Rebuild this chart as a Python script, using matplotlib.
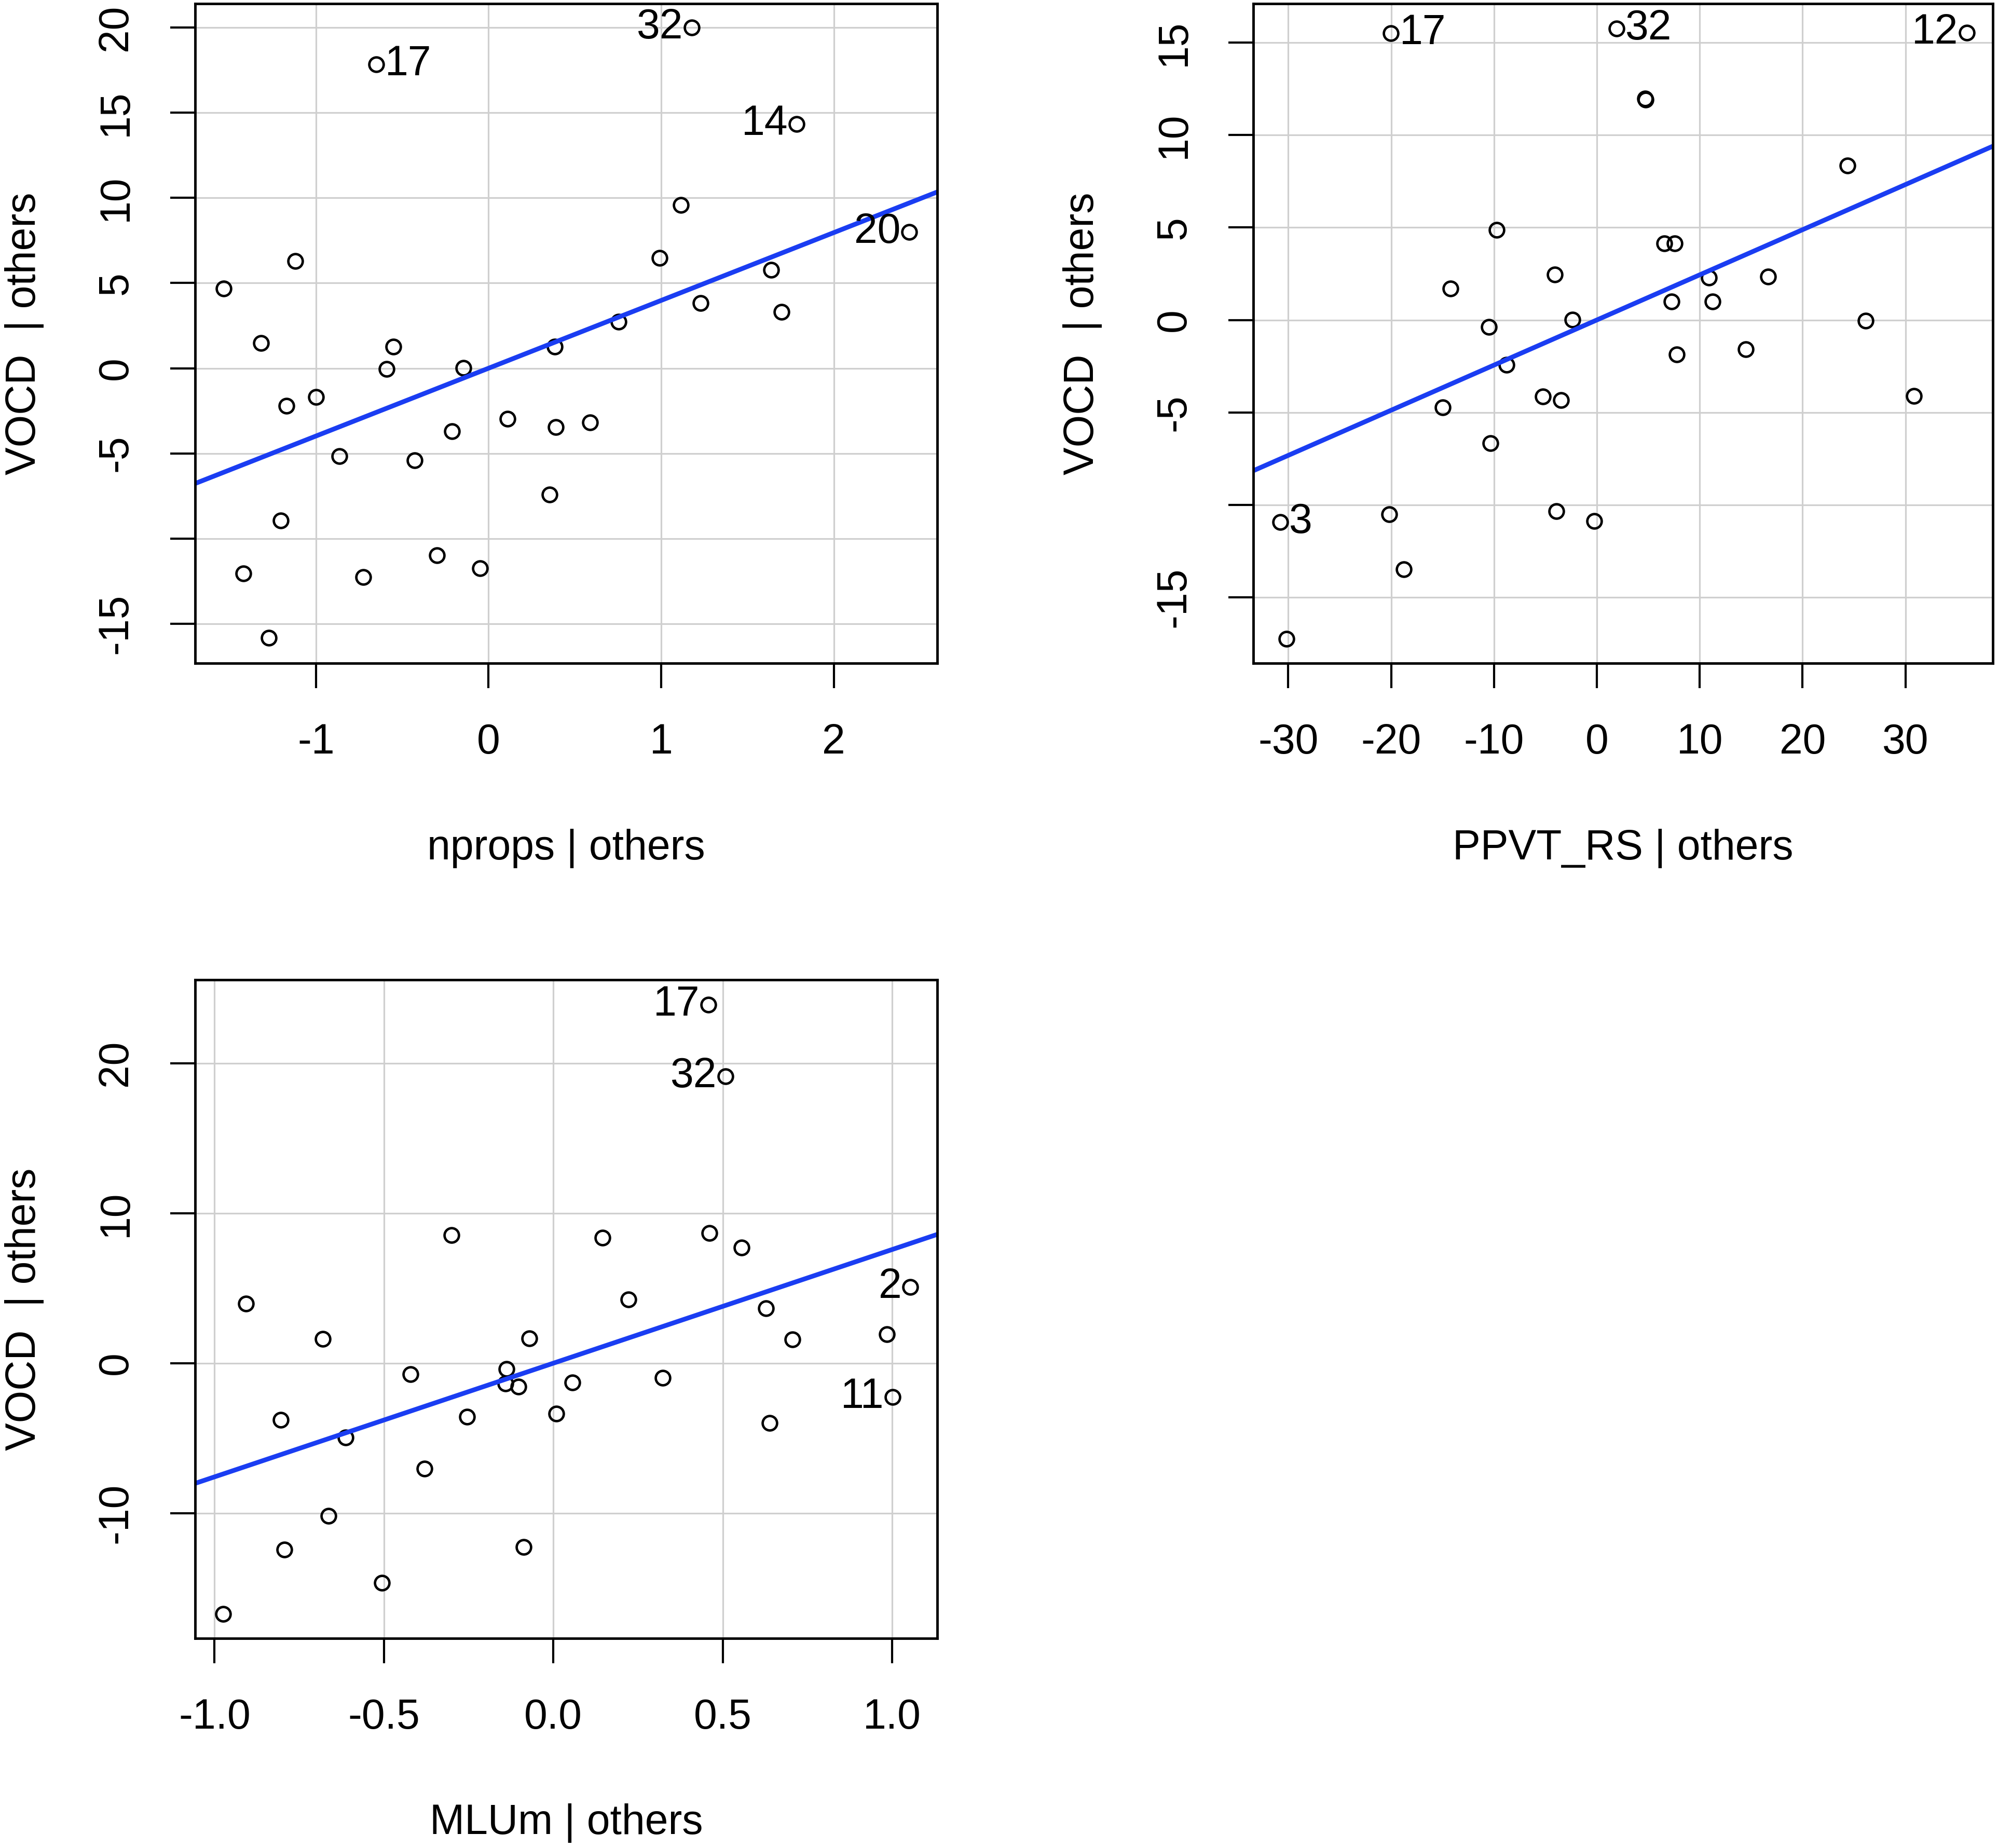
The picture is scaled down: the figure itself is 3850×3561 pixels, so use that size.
import numpy as np
import matplotlib.pyplot as plt

plt.rcParams['font.family'] = ['Liberation Sans', 'DejaVu Sans']
plt.rcParams['axes.unicode_minus'] = False

# added-variable plots: VOCD | others against each predictor | others
# labelled points come first in every array
nprops_x = [-0.651, 1.177, 1.785, 2.439,
            -1.536, -1.319, -1.120, -1.170, -0.999, -0.864, -1.205, -1.422,
            -1.273, -0.725, -0.590, -0.551, -0.427, -0.299, -0.213, -0.146,
            -0.050, 0.110, 0.355, 0.384, 0.391, 0.587, 0.754, 0.992,
            1.113, 1.230, 1.639, 1.699]
nprops_y = [17.83, 20.0, 14.35, 8.01,
            4.69, 1.49, 6.28, -2.20, -1.70, -5.16, -8.93, -12.04,
            -15.81, -12.25, -0.03, 1.28, -5.42, -10.99, -3.69, 0.03,
            -11.75, -2.98, -7.43, 1.26, -3.46, -3.19, 2.72, 6.49,
            9.58, 3.82, 5.76, 3.30]
nprops_labels = ["17", "32", "14", "20"]
nprops_sides = ["r", "l", "l", "l"]

ppvt_x = [-20.04, 1.91, 35.96, -30.77,
          4.71, 4.76, 24.39, -9.72, 6.56, 7.57, -4.11, -14.25,
          10.91, 16.64, 7.27, 11.27, -2.39, -10.49, 26.12, -8.77,
          7.75, 14.49, -5.25, -3.46, -14.97, 30.83, -10.32, -20.16,
          -3.94, -0.24, -18.78, -30.17]
ppvt_y = [15.51, 15.77, 15.53, -10.94,
          11.96, 11.92, 8.36, 4.88, 4.15, 4.15, 2.46, 1.69,
          2.29, 2.34, 1.01, 1.01, 0.02, -0.39, -0.05, -2.42,
          -1.86, -1.57, -4.15, -4.32, -4.73, -4.11, -6.67, -10.51,
          -10.34, -10.87, -13.48, -17.25]
ppvt_labels = ["17", "32", "12", "3"]
ppvt_sides = ["r", "r", "l", "r"]

mlum_x = [0.457, 0.508, 1.053, 1.001,
          -0.301, 0.145, 0.461, 0.555, -0.907, 0.221, 0.627, -0.680,
          -0.071, 0.705, 0.985, -0.422, -0.138, -0.141, -0.103, 0.056,
          0.323, -0.805, -0.254, 0.009, 0.638, -0.613, -0.381, -0.664,
          -0.794, -0.087, -0.506, -0.974]
mlum_y = [23.92, 19.13, 5.09, -2.26,
          8.53, 8.38, 8.68, 7.70, 3.96, 4.26, 3.66, 1.62,
          1.66, 1.58, 1.92, -0.75, -0.38, -1.36, -1.55, -1.28,
          -0.98, -3.77, -3.58, -3.36, -4.0, -4.94, -7.02, -10.19,
          -12.42, -12.26, -14.64, -16.72]
mlum_labels = ["17", "32", "2", "11"]
mlum_sides = ["l", "l", "l", "l"]

# fitted slopes of the added-variable regressions (through the origin)
slopes = [3.98, 0.244, 7.58]

FS = 58


def avplot(ax, x, y, labels, sides, slope, xlabel, xlim, ylim, xticks, xtl, yticks, ytl):
    ax.set_xlim(xlim)
    ax.set_ylim(ylim)
    ax.set_xticks(xticks)
    ax.set_xticklabels(xtl)
    ax.set_yticks(yticks)
    ax.set_yticklabels(ytl, rotation=90, va='center')
    ax.grid(True, color='#cfcfcf', lw=2.3)
    ax.set_axisbelow(True)
    ax.plot(x, y, 'o', mfc='none', mec='black', ms=20, mew=3.4, ls='none')
    ax.axline((0, 0), slope=slope, color='#1a3df2', lw=6.5)
    for i, lab in enumerate(labels):
        if sides[i] == 'r':
            ax.annotate(lab, (x[i], y[i]), xytext=(12, 0), textcoords='offset points',
                        ha='left', va='center', fontsize=FS)
        else:
            ax.annotate(lab, (x[i], y[i]), xytext=(-12, 0), textcoords='offset points',
                        ha='right', va='center', fontsize=FS)
    ax.tick_params(length=34.6, width=3, pad=48, labelsize=FS)
    for s in ax.spines.values():
        s.set_linewidth(3.5)
    ax.set_xlabel(xlabel, fontsize=FS, labelpad=92)
    ax.set_ylabel("VOCD  | others", fontsize=FS, labelpad=72)


fig = plt.figure(figsize=(38.5, 35.61), dpi=100)

ax1 = fig.add_axes([0.0977, 0.641, 0.3714, 0.357])
avplot(ax1, nprops_x, nprops_y, nprops_labels, nprops_sides, slopes[0], "nprops | others",
       (-1.70, 2.60), (-17.33, 21.4), [-1, 0, 1, 2], ["-1", "0", "1", "2"],
       [-15, -10, -5, 0, 5, 10, 15, 20], ["-15", "", "-5", "0", "5", "10", "15", "20"])

ax2 = fig.add_axes([0.6273, 0.641, 0.3701, 0.357])
avplot(ax2, ppvt_x, ppvt_y, ppvt_labels, ppvt_sides, slopes[1], "PPVT_RS | others",
       (-33.4, 38.5), (-18.57, 17.1), [-30, -20, -10, 0, 10, 20, 30],
       ["-30", "-20", "-10", "0", "10", "20", "30"],
       [-15, -10, -5, 0, 5, 10, 15], ["-15", "", "-5", "0", "5", "10", "15"])

ax3 = fig.add_axes([0.0977, 0.1135, 0.3714, 0.3562])
avplot(ax3, mlum_x, mlum_y, mlum_labels, mlum_sides, slopes[2], "MLUm | others",
       (-1.057, 1.133), (-18.34, 25.55), [-1.0, -0.5, 0.0, 0.5, 1.0],
       ["-1.0", "-0.5", "0.0", "0.5", "1.0"],
       [-10, 0, 10, 20], ["-10", "0", "10", "20"])

fig.savefig("out.png", dpi=100, facecolor='white')
